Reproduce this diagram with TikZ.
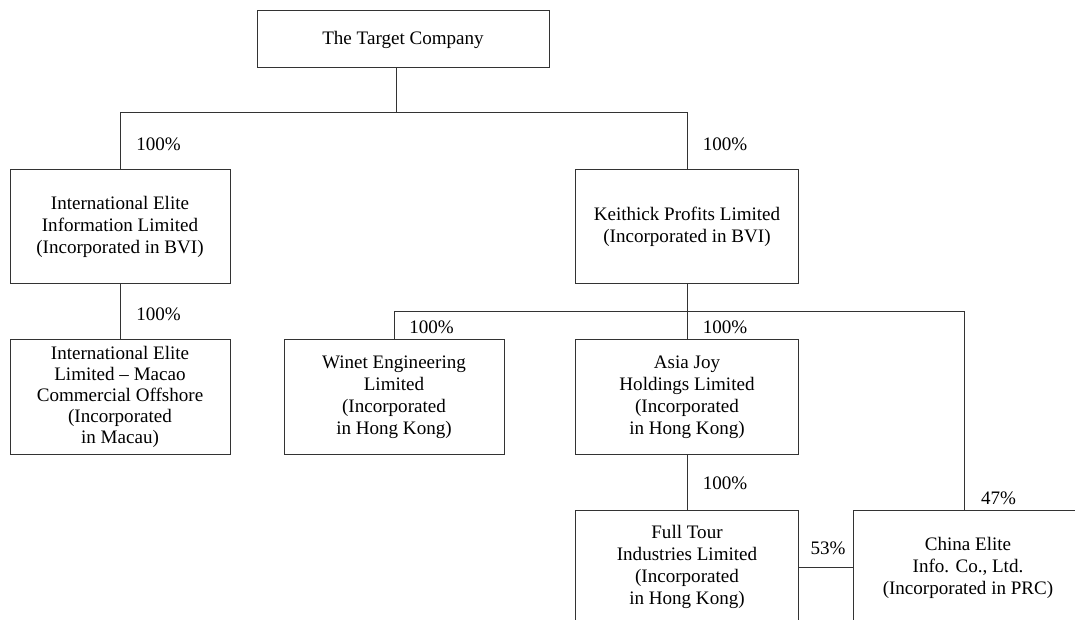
\documentclass[tikz,border=0pt]{standalone}
\usepackage{fontspec}
\setmainfont{Liberation Serif}
\begin{document}
\begin{tikzpicture}[x=0.75pt,y=-0.75pt,
  box/.style={draw=black!80,line width=0.75pt,rectangle,inner sep=0pt,align=center,
    font=\fontsize{14.3}{16.6}\selectfont},
  pct/.style={inner sep=0pt,font=\fontsize{14.3}{16.6}\selectfont},
  link/.style={draw=black!80,line width=0.75pt}]
\useasboundingbox (0,0) rectangle (1075,620);
\clip (0,0) rectangle (1075,620);
% boxes
\node[box,minimum width=292*0.75pt,minimum height=57*0.75pt] (target) at (403,39.5) {The Target Company};
\node[box,minimum width=220*0.75pt,minimum height=114*0.75pt] (ieil) at (120,227) {International Elite\\Information Limited\\(Incorporated in BVI)};
\node[box,minimum width=223*0.75pt,minimum height=114*0.75pt] (kpl) at (687,227) {Keithick Profits Limited\\(Incorporated in BVI)};
\node[box,minimum width=220*0.75pt,minimum height=114*0.75pt,font=\fontsize{14.3}{15.8}\selectfont] (macao) at (120,397) {International Elite\\Limited -- Macao\\Commercial Offshore\\(Incorporated\\in Macau)};
\node[box,minimum width=220*0.75pt,minimum height=114*0.75pt] (winet) at (394,397) {Winet Engineering\\Limited\\(Incorporated\\in Hong Kong)};
\node[box,minimum width=223*0.75pt,minimum height=114*0.75pt] (asia) at (687,397) {Asia Joy\\Holdings Limited\\(Incorporated\\in Hong Kong)};
\node[box,minimum width=223*0.75pt,minimum height=114*0.75pt] (full) at (687,567) {Full Tour\\Industries Limited\\(Incorporated\\in Hong Kong)};
\node[box,minimum width=230*0.75pt,minimum height=116*0.75pt] (china) at (968,568) {China Elite\\Info. Co., Ltd.\\(Incorporated in PRC)};
% bus coordinates
\coordinate (bus1) at (396,113);
\coordinate (bus2) at (687,312);
\coordinate (busR) at (964,312);
% connectors
\draw[link] (bus1 |- target.south) -- (bus1);
\draw[link] (ieil.north) -- (ieil.north |- bus1) -- (kpl.north |- bus1) -- (kpl.north);
\draw[link] (ieil.south) -- (macao.north);
\draw[link] (kpl.south) -- (bus2);
\draw[link] (winet.north) -- (winet.north |- bus2) -- (busR) -- (busR |- china.north);
\draw[link] (bus2) -- (asia.north);
\draw[link] (asia.south) -- (full.north);
\draw[link] (full.east |- 0,567) -- (china.west |- 0,567);
% labels
\node[pct] (p1) at (158.5,144) {100\%};
\node[pct] (p2) at (725,144) {100\%};
\node[pct] (p3) at (158.5,314) {100\%};
\node[pct] (p4) at (431.5,327) {100\%};
\node[pct] (p5) at (725,327) {100\%};
\node[pct] (p6) at (725,483) {100\%};
\node[pct] (p7) at (998.5,498) {47\%};
\node[pct] (p8) at (828,548) {53\%};
\end{tikzpicture}
\end{document}
